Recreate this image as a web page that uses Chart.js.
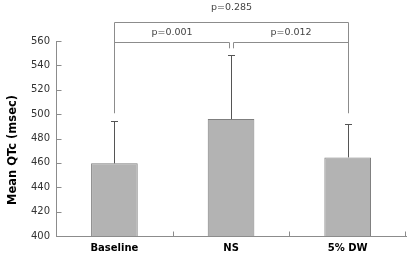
<!DOCTYPE html>
<html>
<head>
<meta charset="utf-8">
<script src="https://cdn.jsdelivr.net/npm/chart.js@4/dist/chart.umd.min.js"></script>
<style>
    body { margin: 0; background: #fff; }
</style>
</head>
<body>
<canvas id="myChart" width="410" height="258"></canvas>
<script>
    // values
    const categories = ['Baseline', 'NS', '5% DW'];
    const meanQTc = [459.6, 495.9, 464.5];
    const sdQTc = [34.9, 52.4, 27.3];

    // significance brackets: from / to category index, level (msec), label
    const pFrom = [0, 1, 0];
    const pTo = [1, 2, 2];
    const pLevel = [559, 559, 575.5];
    const pLabels = ['p=0.001', 'p=0.012', 'p=0.285'];
    // where the bracket legs stop above each bar (msec)
    const legEnd = [500.8, 554, 500.8];

    const yTicks = [400, 420, 440, 460, 480, 500, 520, 540, 560];
    const yTitle = 'Mean QTc (msec)';

    const axisColor = '#8c8c8c';
    const labelGap = [10, 10, 15];

    var ctx = document.getElementById('myChart').getContext('2d');

    const annotPlugin = {
        id: 'annot',
        afterDatasetsDraw(chart) {
            const c = chart.ctx;
            const xs = chart.scales.x;
            const ys = chart.scales.y;
            const area = chart.chartArea;
            c.save();

            // inward tick marks
            c.strokeStyle = axisColor;
            c.lineWidth = 1;
            c.beginPath();
            const ax = Math.round(area.left) + 0.5;
            yTicks.forEach(v => {
                const y = Math.round(ys.getPixelForValue(v)) + 0.5;
                c.moveTo(ax, y);
                c.lineTo(ax + 5, y);
            });
            const ay = Math.round(area.bottom) + 0.5;
            for (let i = 1; i <= categories.length; i++) {
                const x = Math.min(Math.round(xs.getPixelForValue(i - 0.5)), Math.round(area.right) - 1) + 0.5;
                c.moveTo(x, ay);
                c.lineTo(x, ay - 5);
            }
            c.stroke();

            // error bars (upper only)
            c.strokeStyle = '#555';
            meanQTc.forEach((m, i) => {
                const x = Math.round(xs.getPixelForValue(i)) + 0.5;
                const y0 = ys.getPixelForValue(m);
                const y1 = Math.round(ys.getPixelForValue(m + sdQTc[i])) + 0.5;
                c.beginPath();
                c.moveTo(x, y0);
                c.lineTo(x, y1);
                c.moveTo(x - 3.5, y1);
                c.lineTo(x + 3.5, y1);
                c.stroke();
            });

            // brackets
            c.strokeStyle = axisColor;
            c.fillStyle = '#444';
            c.font = '9.5px "DejaVu Sans"';
            c.textAlign = 'center';
            c.textBaseline = 'middle';
            pLabels.forEach((label, i) => {
                const a = pFrom[i], b = pTo[i];
                let xa = Math.round(xs.getPixelForValue(a)) + 0.5;
                let xb = Math.round(xs.getPixelForValue(b)) + 0.5;
                if (a != 0) xa += 2;
                if (b != categories.length - 1) xb -= 2;
                const y = Math.round(ys.getPixelForValue(pLevel[i])) + 0.5;
                c.beginPath();
                c.moveTo(xa, ys.getPixelForValue(legEnd[a]));
                c.lineTo(xa, y);
                c.lineTo(xb, y);
                c.lineTo(xb, ys.getPixelForValue(legEnd[b]));
                c.stroke();
                c.fillText(label, (xa + xb) / 2, y - labelGap[i]);
            });

            // y axis title, sits a bit below the axis middle in the original
            c.translate(13, 150);
            c.rotate(-Math.PI / 2);
            c.fillStyle = '#000';
            c.font = 'bold 11.5px "DejaVu Sans"';
            c.fillText(yTitle, 0, 0);
            c.restore();
        }
    };

    var barChart = new Chart(ctx, {
        type: 'bar',
        data: {
            labels: categories,
            datasets: [{
                data: meanQTc,
                backgroundColor: '#b3b3b3',
                borderColor: '#7f7f7f',
                borderWidth: 1,
                barPercentage: 0.4,
                categoryPercentage: 1.0,
            }]
        },
        options: {
            responsive: false,
            animation: false,
            layout: {
                padding: { top: 41, right: 4, left: 25, bottom: -2 }
            },
            plugins: {
                legend: { display: false },
                tooltip: { enabled: false }
            },
            scales: {
                x: {
                    grid: {
                        drawOnChartArea: false,
                        drawTicks: false,
                    },
                    border: { color: axisColor },
                    ticks: {
                        color: '#000',
                        padding: 6,
                        font: { family: 'DejaVu Sans', size: 10, weight: 'bold' }
                    }
                },
                y: {
                    min: 400,
                    max: 560,
                    afterBuildTicks: (axis) => {
                        axis.ticks = yTicks.map(v => ({ value: v }));
                    },
                    grid: {
                        drawOnChartArea: false,
                        drawTicks: false,
                    },
                    border: { color: axisColor },
                    ticks: {
                        color: '#333',
                        padding: 6,
                        font: { family: 'DejaVu Sans', size: 10 }
                    }
                }
            }
        },
        plugins: [annotPlugin]
    });
</script>
</body>
</html>
